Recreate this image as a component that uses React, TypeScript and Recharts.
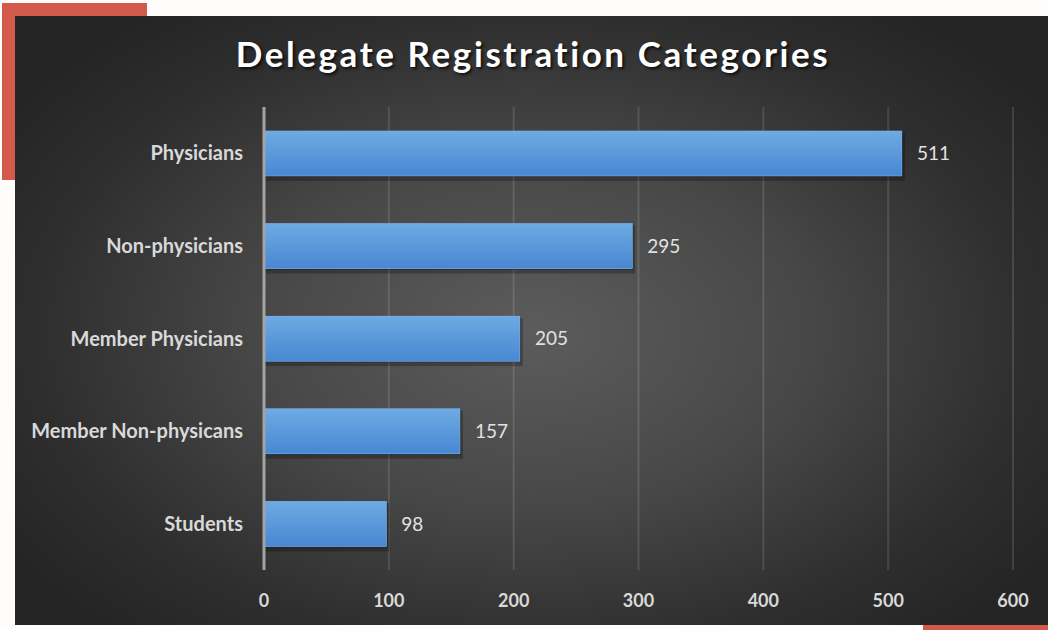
import React from "react";
import { BarChart, Bar, XAxis, YAxis, CartesianGrid, LabelList } from "recharts";

const categories = ["Physicians", "Non-physicians", "Member Physicians", "Member Non-physicans", "Students"];
const counts = [511, 295, 205, 157, 98];
const xTicks = [0, 100, 200, 300, 400, 500, 600];

const data = categories.map((name, i) => ({ name, count: counts[i] }));

const FONT = "Lato, 'Open Sans', sans-serif";

const renderBar = (props: any) => {
  const x = Number(props.x);
  const y = Number(props.y);
  const width = Number(props.width);
  const height = Number(props.height);
  return (
    <g>
      <rect x={x + 1} y={y + 2} width={width + 2} height={height + 3} fill="rgba(0,0,0,0.25)" />
      <rect x={x} y={y} width={width + 1} height={height + 1} fill="rgba(0,0,0,0.35)" />
      <rect x={x} y={y} width={width} height={height} fill="#5a98da" />
      <rect x={x} y={y} width={width} height={height} fill="url(#barFill)" stroke="#7fb3e6" strokeWidth={0.6} />
    </g>
  );
};

export default function App() {
  return (
    <div style={{ position: "fixed", left: 0, top: 0, width: 1048, height: 630, background: "#fffdfc", overflow: "hidden" }}>
      <svg width={1} height={1} style={{ position: "absolute", left: 0, top: 0 }}>
        <defs>
          <linearGradient id="barFill" x1="0" y1="0" x2="0" y2="1">
            <stop offset="0%" stopColor="#6eaae2" />
            <stop offset="100%" stopColor="#4887d3" />
          </linearGradient>
        </defs>
      </svg>
      <div style={{ position: "absolute", left: 2, top: 3, width: 145, height: 177, background: "#d35b4b" }} />
      <div style={{ position: "absolute", left: 923, top: 625, width: 125, height: 5, background: "#d35b4b" }} />
      <div
        style={{
          position: "absolute",
          left: 15,
          top: 16,
          width: 1033,
          height: 609,
          background: "radial-gradient(ellipse 60% 65% at 50% 52%, #5c5c5c 0%, #474747 45%, #2e2e2e 80%, #252525 100%)",
        }}
      >
        <div
          style={{
            position: "absolute",
            left: 0,
            top: 16,
            width: 1036,
            textAlign: "center",
            color: "#ffffff",
            fontFamily: FONT,
            fontWeight: 700,
            fontSize: 35,
            letterSpacing: 2.6,
            textShadow: "2px 2px 3px rgba(0,0,0,0.7)",
          }}
        >
          Delegate Registration Categories
        </div>
        <BarChart
          width={1033}
          height={609}
          data={data}
          layout="vertical"
          margin={{ top: 91, right: 35, bottom: 0, left: 0 }}
          barSize={45}
          style={{ position: "absolute", left: 0, top: 0 }}
        >
          <CartesianGrid horizontal={false} stroke="rgba(255,255,255,0.12)" strokeWidth={2} />
          <XAxis
            type="number"
            domain={[0, 600]}
            ticks={xTicks}
            height={55}
            axisLine={false}
            tickLine={false}
            tickMargin={18}
            tick={{ fill: "#d9d9d9", fontSize: 18, fontWeight: 700, fontFamily: FONT }}
          />
          <YAxis
            type="category"
            dataKey="name"
            width={249}
            axisLine={{ stroke: "#a3a3a3", strokeWidth: 3 }}
            tickLine={false}
            tickSize={0}
            tickMargin={21}
            tick={{ fill: "#d9d9d9", fontSize: 20, fontWeight: 700, fontFamily: FONT }}
          />
          <Bar dataKey="count" fill="#5a98da" shape={renderBar} isAnimationActive={false}>
            <LabelList
              dataKey="count"
              position="right"
              offset={15}
              fill="#e2e2e2"
              fontSize={19}
              fontFamily={FONT}
            />
          </Bar>
        </BarChart>
      </div>
    </div>
  );
}
